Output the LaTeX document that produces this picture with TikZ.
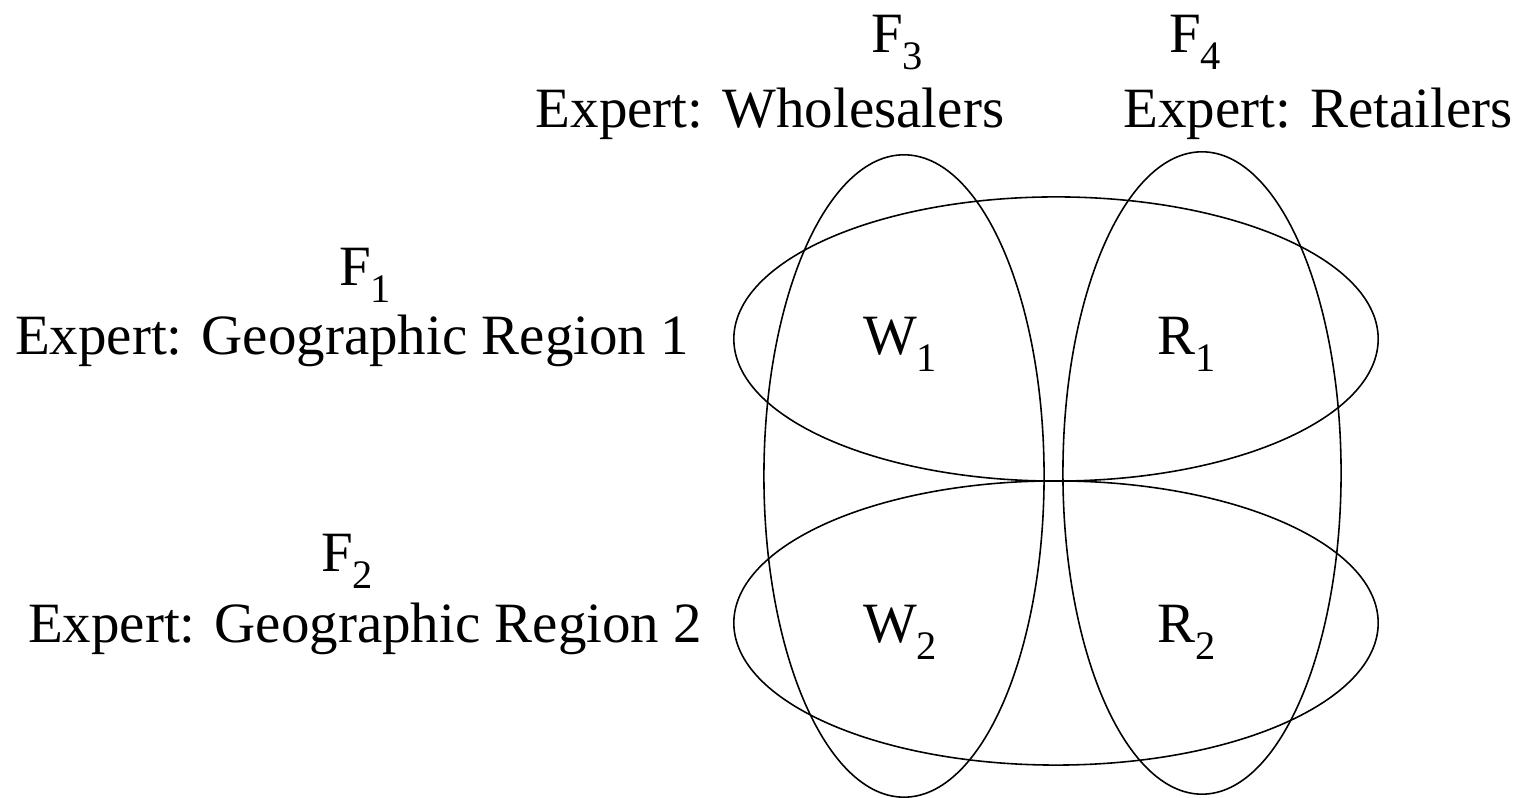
\documentclass[tikz,border=0pt]{standalone}
\usepackage{fontspec}
\setmainfont{Liberation Serif}
\newcommand{\lbl}[2]{#1\raisebox{-4.6pt}{\fontsize{11.5pt}{13pt}\selectfont #2}}
\begin{document}
\begin{tikzpicture}[x=0.01cm,y=-0.01cm,
  txt/.style={inner sep=0pt,anchor=base,font=\fontsize{16.2pt}{19pt}\selectfont},
  set/.style={draw=black,line width=0.45pt}]
\useasboundingbox (0,0) rectangle (1521,798);
% sets
\coordinate (h1) at (1056,339);
\coordinate (h2) at (1056,623);
\coordinate (v1) at (904,476);
\coordinate (v2) at (1202,473);
\draw[set] (h1) ellipse [x radius=3.22cm, y radius=1.42cm];
\draw[set] (h2) ellipse [x radius=3.22cm, y radius=1.42cm];
\draw[set] (v1) ellipse [x radius=1.40cm, y radius=3.21cm];
\draw[set] (v2) ellipse [x radius=1.39cm, y radius=3.21cm];
% top labels
\node[txt] (f3) at (897,53) {\lbl{F}{3}};
\node[txt] (e3) at (770,128) {Expert: Wholesalers};
\node[txt] (f4) at (1195,53) {\lbl{F}{4}};
\node[txt] (e4) at (1318,128) {Expert: Retailers};
% left labels
\node[txt] (f1) at (365,286) {\lbl{F}{1}};
\node[txt] (e1) at (352,355) {Expert: Geographic Region 1};
\node[txt] (f2) at (347,572) {\lbl{F}{2}};
\node[txt] (e2) at (365,643) {Expert: Geographic Region 2};
% cells
\node[txt] (w1) at (900,355) {\lbl{W}{1}};
\node[txt] (r1) at (1187,355) {\lbl{R}{1}};
\node[txt] (w2) at (900,643) {\lbl{W}{2}};
\node[txt] (r2) at (1187,643) {\lbl{R}{2}};
\end{tikzpicture}
\end{document}
